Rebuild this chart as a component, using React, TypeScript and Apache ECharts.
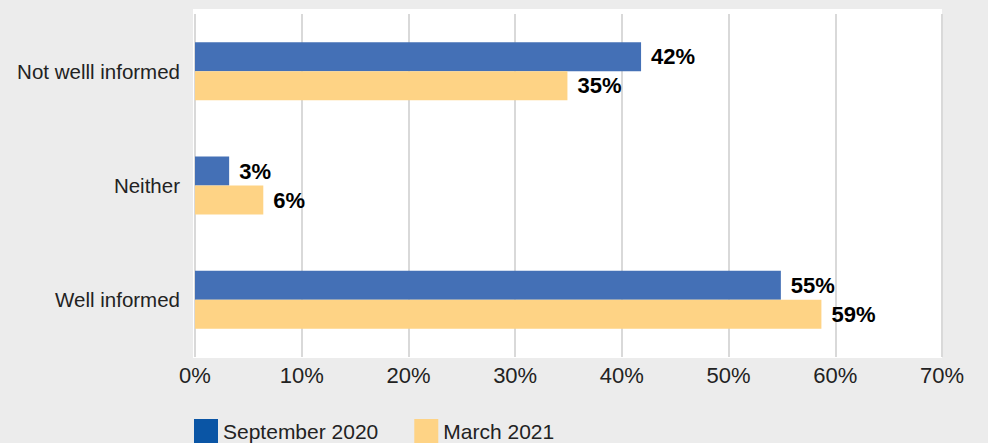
import React, { useEffect, useRef } from "react";
import * as echarts from "echarts";

const categories = ["Not welll informed", "Neither", "Well informed"];
const seriesNames = ["September 2020", "March 2021"];
const sep2020 = [41.8, 3.2, 54.9];
const mar2021 = [34.9, 6.4, 58.7];
const barColors = ["#4470b6", "#fed385"];
const legendColors = ["#0a55a5", "#fed385"];

const FONT = "'Liberation Sans', Arial, Helvetica, sans-serif";

export default function App() {
  const ref = useRef<HTMLDivElement>(null);
  useEffect(() => {
    if (!ref.current) return;
    const chart = echarts.init(ref.current, null, { renderer: "svg" });
    const labelCfg = {
      show: true,
      position: "right",
      distance: 10,
      fontFamily: FONT,
      fontSize: 22,
      fontWeight: "bold",
      color: "#000",
      formatter: (p: any) => Math.round(p.value) + "%",
    };
    chart.setOption({
      animation: false,
      backgroundColor: "#ececec",
      textStyle: { fontFamily: FONT },
      graphic: [
        { type: "rect", z: -10, shape: { x: 193, y: 9, width: 749, height: 349 }, style: { fill: "#ffffff" } },
        { type: "rect", z: -10, shape: { x: 988, y: 0, width: 8, height: 443 }, style: { fill: "#ffffff" } },
      ],
      grid: { left: 195, right: 54, top: 14, bottom: 86, containLabel: false },
      legend: {
        left: 194,
        top: 419,
        padding: 0,
        icon: "rect",
        itemWidth: 24,
        itemHeight: 24,
        itemGap: 36,
        textStyle: { fontFamily: FONT, fontSize: 21, color: "#222" },
        data: seriesNames.map((n, i) => ({ name: n, itemStyle: { color: legendColors[i] } })),
      },
      xAxis: {
        type: "value",
        min: 0,
        max: 70,
        interval: 10,
        axisLine: { show: false },
        axisTick: { show: false },
        axisLabel: {
          formatter: "{value}%",
          fontFamily: FONT,
          fontSize: 22,
          color: "#222",
          margin: 7,
        },
        splitLine: { show: true, lineStyle: { color: "#d9d9d9", width: 2 } },
      },
      yAxis: {
        type: "category",
        data: categories,
        inverse: true,
        axisLine: { show: false },
        axisTick: { show: false },
        axisLabel: { fontFamily: FONT, fontSize: 20.5, color: "#222", margin: 15 },
        splitLine: { show: false },
      },
      series: [
        {
          name: seriesNames[0],
          type: "bar",
          data: sep2020,
          barWidth: 29,
          barGap: "0%",
          itemStyle: { color: barColors[0] },
          label: labelCfg,
        },
        {
          name: seriesNames[1],
          type: "bar",
          data: mar2021,
          barWidth: 29,
          barGap: "0%",
          itemStyle: { color: barColors[1] },
          label: labelCfg,
        },
      ],
    });
    return () => chart.dispose();
  }, []);
  return (
    <div
      ref={ref}
      style={{ position: "fixed", left: 0, top: 0, width: 996, height: 443 }}
    />
  );
}
